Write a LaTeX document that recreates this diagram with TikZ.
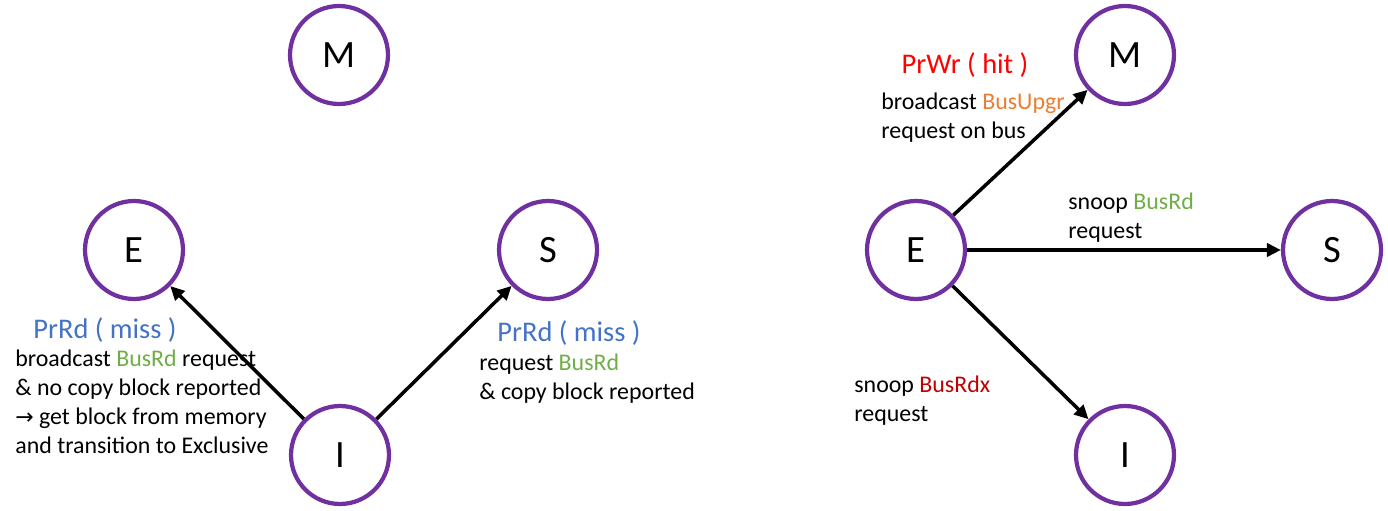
\documentclass[tikz,border=0pt]{standalone}
\usepackage{fontspec}
\setmainfont{Carlito}
\newfontfamily\symfont{DejaVu Sans}
\usetikzlibrary{arrows.meta}
\definecolor{statepurple}{HTML}{7030A0}
\definecolor{prblue}{HTML}{4472C4}
\definecolor{busgreen}{HTML}{70AD47}
\definecolor{busorange}{HTML}{ED7D31}
\definecolor{prred}{HTML}{FF0000}
\definecolor{bdred}{HTML}{C00000}
\tikzset{
  state/.style={circle, draw=statepurple, line width=2.4pt, minimum size=1.96cm, inner sep=0pt, font=\fontsize{22}{26}\selectfont},
  trans/.style={line width=2pt, -{Triangle[length=8pt,width=7.5pt]}},
  ttl/.style={inner sep=0pt, font=\fontsize{16.2}{19}\selectfont},
  lbl/.style={inner sep=0pt, align=left, anchor=west, font=\fontsize{13.6}{16.6}\selectfont}
}
\begin{document}
\begin{tikzpicture}[x=0.02cm, y=-0.02cm]
\useasboundingbox (0,0) rectangle (1388,510);
% left diagram
\node[state] (M1) at (339,55) {M};
\node[state] (E1) at (134,250) {E};
\node[state] (S1) at (548,250) {S};
\node[state] (I1) at (340,455) {I};
\draw[trans] (I1) -- (E1);
\draw[trans] (I1) -- (S1);
\node[ttl, text=prblue] (t1) at (105,330) {PrRd ( miss )};
\node[lbl] (l1) at (15,402) {broadcast \textcolor{busgreen}{BusRd} request\\ \& no copy block reported\\ {\symfont\fontsize{12.5}{16.6}\selectfont →} get block from memory\\ and transition to Exclusive};
\node[ttl, text=prblue] (t2) at (569,333) {PrRd ( miss )};
\node[lbl] (l2) at (479,379) {request \textcolor{busgreen}{BusRd}\\ \& copy block reported};
% right diagram
\node[state] (M2) at (1125,55) {M};
\node[state] (E2) at (916,250) {E};
\node[state] (S2) at (1332,250) {S};
\node[state] (I2) at (1125,455) {I};
\draw[trans] (E2) -- (M2);
\draw[trans] (E2) -- (S2);
\draw[trans] (E2) -- (I2);
\node[ttl, text=prred] (t3) at (965,65) {PrWr ( hit )};
\node[lbl] (l3) at (881,117.5) {broadcast \textcolor{busorange}{BusUpgr}\\ request on bus};
\node[lbl] (l4) at (1068,217.5) {snoop \textcolor{busgreen}{BusRd}\\ request};
\node[lbl] (l5) at (854,400.5) {snoop \textcolor{bdred}{BusRdx}\\ request};
\end{tikzpicture}
\end{document}
